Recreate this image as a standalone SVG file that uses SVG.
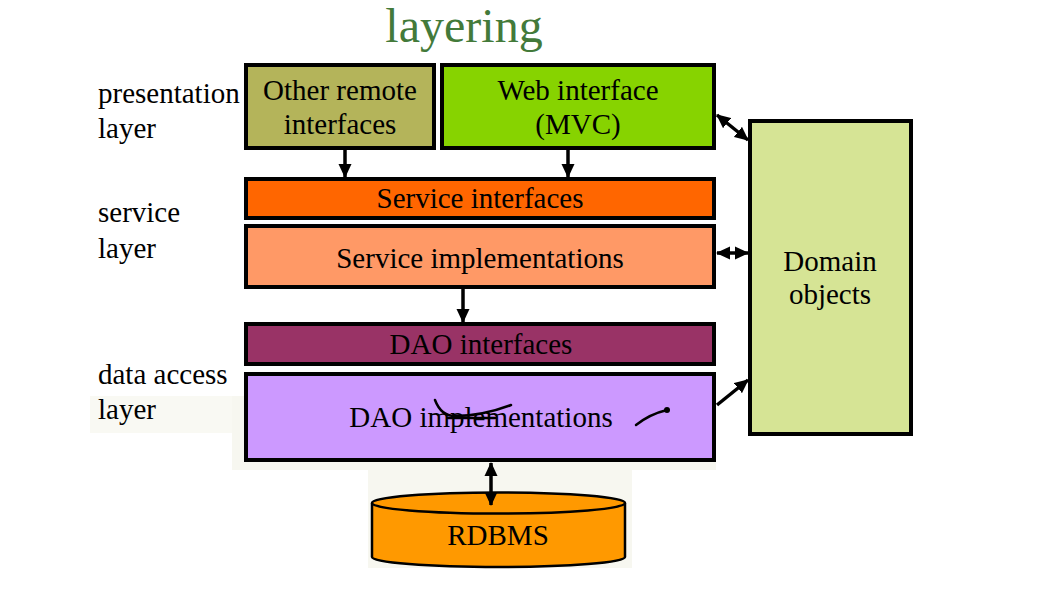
<svg xmlns="http://www.w3.org/2000/svg" width="1038" height="609" viewBox="0 0 1038 609">
<style>
.box{stroke:#000;stroke-width:4}
.t{font-family:"Liberation Serif","Times New Roman",serif;font-size:29px;fill:#000;text-anchor:middle}
.lbl{font-family:"Liberation Serif","Times New Roman",serif;font-size:29px;fill:#000}
.c{stroke:#000;stroke-width:3.5;fill:none}
.scr{stroke:#000;stroke-width:2.5;fill:none;stroke-linecap:round}
</style>
<defs>
<marker id="ah" markerUnits="userSpaceOnUse" markerWidth="14" markerHeight="14" viewBox="0 0 14 14" refX="13" refY="7" orient="auto-start-reverse">
<path d="M0,0.5 L14,7 L0,13.5 Z" fill="#000"/>
</marker>
</defs>
<rect width="1038" height="609" fill="#fff"/>
<g id="background">
<rect x="90" y="396" width="155" height="37" fill="#f9f9f3"/>
<rect x="232" y="396" width="484" height="74" fill="#f7f7f0"/>
<rect x="368" y="468" width="264" height="100" fill="#f7f7f0"/>
</g>
<text x="464" y="42" font-family="Liberation Serif, Times New Roman, serif" font-size="48" fill="#437a3a" text-anchor="middle">layering</text>
<g id="layer-labels">
<text class="lbl" x="98" y="103">presentation</text>
<text class="lbl" x="98" y="138">layer</text>
<text class="lbl" x="98" y="222">service</text>
<text class="lbl" x="98" y="258">layer</text>
<text class="lbl" x="98" y="384">data access</text>
<text class="lbl" x="98" y="419">layer</text>
</g>
<g id="other-remote">
<rect class="box" x="246" y="65" width="188" height="83" fill="#b4b45a"/>
<text class="t" x="340" y="100">Other remote</text>
<text class="t" x="340" y="134">interfaces</text>
</g>
<g id="web-interface">
<rect class="box" x="442" y="65" width="272" height="83" fill="#87d300"/>
<text class="t" x="578" y="100">Web interface</text>
<text class="t" x="578" y="134">(MVC)</text>
</g>
<g id="service-interfaces">
<rect class="box" x="246" y="179" width="468" height="39" fill="#ff6600"/>
<text class="t" x="480" y="208">Service interfaces</text>
</g>
<g id="service-implementations">
<rect class="box" x="246" y="226" width="468" height="61" fill="#ff9966"/>
<text class="t" x="480" y="268">Service implementations</text>
</g>
<g id="dao-interfaces">
<rect class="box" x="246" y="324" width="468" height="40" fill="#993366"/>
<text class="t" x="481" y="354">DAO interfaces</text>
</g>
<g id="dao-implementations">
<rect class="box" x="246" y="374" width="468" height="86" fill="#cc99ff"/>
<text class="t" x="481" y="427">DAO implementations</text>
<path class="scr" d="M435,400 Q441,416 455,416 Q482,416 511,405"/>
<path class="scr" d="M448,418 L495,418" stroke-width="2"/>
<path class="scr" d="M636,425 Q650,414 667,410"/>
<circle cx="667" cy="410" r="3" fill="#000"/>
</g>
<g id="domain-objects">
<rect class="box" x="750" y="121" width="161" height="313" fill="#d6e495"/>
<text class="t" x="830" y="271">Domain</text>
<text class="t" x="830" y="304">objects</text>
</g>
<g id="rdbms">
<path d="M372,503 L372,557 A126.5,10 0 0 0 625,557 L625,503" fill="#ff9900" stroke="#000" stroke-width="2.5"/>
<ellipse cx="498.5" cy="503" rx="126.5" ry="10.5" fill="#ff9900" stroke="#000" stroke-width="2.5"/>
<text class="t" x="498" y="545">RDBMS</text>
</g>
<g id="connectors">
<line class="c" x1="345" y1="150" x2="345" y2="177" marker-end="url(#ah)"/>
<line class="c" x1="568" y1="150" x2="568" y2="177" marker-end="url(#ah)"/>
<line class="c" x1="463" y1="289" x2="463" y2="322" marker-end="url(#ah)"/>
<line class="c" x1="491" y1="463" x2="491" y2="505" marker-start="url(#ah)" marker-end="url(#ah)"/>
<line class="c" x1="717" y1="115" x2="748" y2="140" marker-start="url(#ah)" marker-end="url(#ah)"/>
<line class="c" x1="717" y1="253" x2="748" y2="253" marker-start="url(#ah)" marker-end="url(#ah)"/>
<line class="c" x1="717" y1="405" x2="748" y2="380" marker-end="url(#ah)"/>
</g>
</svg>
